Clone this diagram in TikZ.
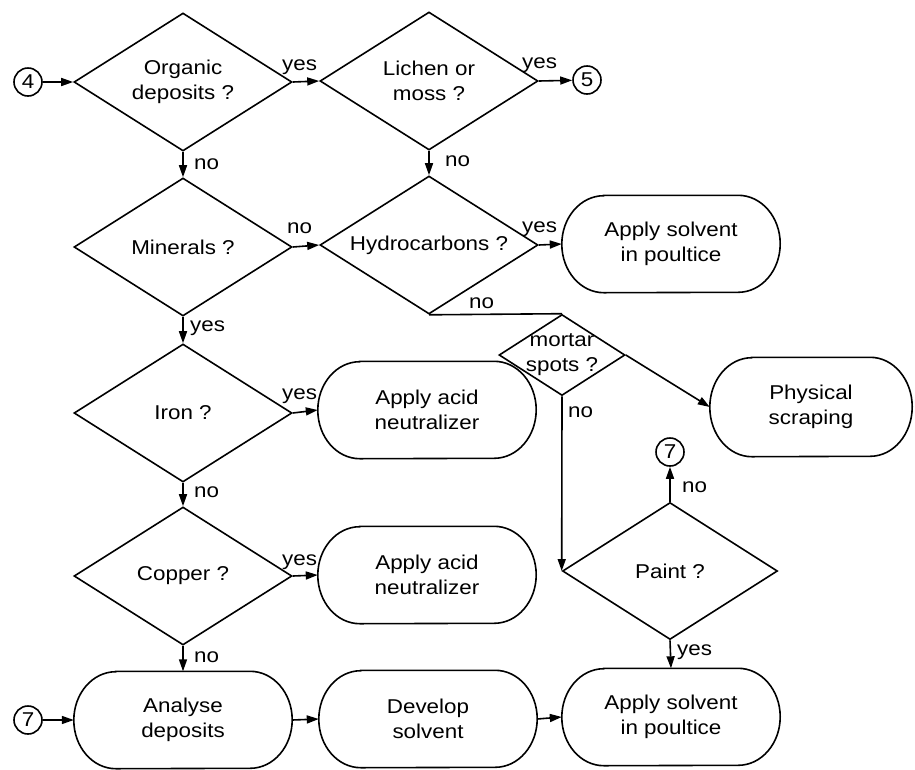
\documentclass[tikz,border=0pt]{standalone}
\usepackage{fontspec}
\setmainfont{Liberation Sans}[FakeStretch=1.12]
\usetikzlibrary{shapes.geometric,arrows.meta}
% outline of an action box: straight top and bottom, half-elliptic ends
% #1 = node name, #2 = vertical radius (half the box height)
\newcommand\drawpill[2]{%
  \draw[outline] ([xshift=42pt]#1.north west) -- ([xshift=-42pt]#1.north east)
    arc[start angle=90, end angle=-90, x radius=42pt, y radius=#2]
    -- ([xshift=42pt]#1.south west)
    arc[start angle=270, end angle=90, x radius=42pt, y radius=#2] -- cycle;}
\begin{document}
\begin{tikzpicture}[x=1pt,y=-1pt,
  every node/.style={font=\fontsize{20}{25}\selectfont, text=black},
  outline/.style={draw=black, line width=1.6pt},
  line/.style={draw=black, line width=1.6pt},
  arr/.style={line, -{Triangle[length=12pt,width=8pt]}},
  dec/.style={outline, diamond, aspect=1.58, inner sep=0pt,
    minimum width=218pt, minimum height=138pt, align=center},
  pill/.style={rectangle, inner sep=0pt,
    minimum width=218pt, minimum height=97pt, align=center},
  conn/.style={outline, circle, inner sep=0pt, minimum size=28pt},
  lbl/.style={anchor=base west, inner sep=0pt}]

\useasboundingbox (0,0) rectangle (915,769);

% decisions and actions
\node[conn] (c4) at (28,82) {4};
\node[dec] (org) at (183,82) {Organic\\deposits ?};
\node[dec] (lich) at (429,81) {Lichen or\\moss ?};
\node[conn] (c5) at (587,80) {5};
\node[dec] (min) at (183,247) {Minerals ?};
\node[dec] (hyd) at (429,245) {Hydrocarbons ?};
\node[pill] (sol1) at (671,244) {Apply solvent\\in poultice};
\node[dec, minimum width=126pt, minimum height=81pt] (mort) at (562,355) {};
\node[align=center, inner sep=0pt] (mortt) at (mort.center) {mortar\\spots ?};
\node[pill, minimum width=202pt, minimum height=99pt] (phys) at (811,407) {Physical\\scraping};
\node[dec] (iron) at (183,413) {Iron ?};
\node[pill] (acid1) at (427,410) {Apply acid\\neutralizer};
\node[conn] (c7a) at (670,452) {7};
\node[dec] (cu) at (183,576) {Copper ?};
\node[pill] (acid2) at (427,575) {Apply acid\\neutralizer};
\node[dec, minimum width=215pt, minimum height=137pt] (paint) at (670,571) {Paint ?};
\node[conn] (c7b) at (28,720) {7};
\node[pill] (ana) at (183,720) {Analyse\\deposits};
\node[pill] (dev) at (428,719) {Develop\\solvent};
\node[pill] (sol2) at (671,717) {Apply solvent\\in poultice};

% action box outlines
\drawpill{sol1}{48.5pt}
\drawpill{phys}{49.5pt}
\drawpill{acid1}{48.5pt}
\drawpill{acid2}{48.5pt}
\drawpill{ana}{48.5pt}
\drawpill{dev}{48.5pt}
\drawpill{sol2}{48.5pt}

% connectors
\draw[arr] (c4) -- (org.west);
\draw[arr] (org.east) -- (lich.west);
\draw[arr] (lich.east) -- (c5);
\draw[arr] (org.south) -- (min.north);
\draw[arr] (lich.south) -- (hyd.north);
\draw[arr] (min.east) -- (hyd.west);
\draw[arr] (hyd.east) -- (sol1.west);
\draw[line] (hyd.south) -- (mort.north);
\draw[arr] (mort.east) -- (phys.west);
\draw[arr] (mort.south) -- (paint.west);
\draw[arr] (paint.north) -- (c7a);
\draw[arr] (paint.south) -- (sol2.north);
\draw[arr] (min.south) -- (iron.north);
\draw[arr] (iron.east) -- (acid1.west);
\draw[arr] (iron.south) -- (cu.north);
\draw[arr] (cu.east) -- (acid2.west);
\draw[arr] (cu.south) -- (ana.north);
\draw[arr] (c7b) -- (ana.west);
\draw[arr] (ana.east) -- (dev.west);
\draw[arr] (dev.east) -- (sol2.west);

% branch labels
\node[lbl] (y1) at (282,70) {yes};
\node[lbl] (y2) at (522,68) {yes};
\node[lbl] (n1) at (194,169) {no};
\node[lbl] (n2) at (445,166) {no};
\node[lbl] (n3) at (287,233) {no};
\node[lbl] (y3) at (522,232) {yes};
\node[lbl] (n4) at (469,308) {no};
\node[lbl] (y4) at (190,331) {yes};
\node[lbl] (y5) at (282,399) {yes};
\node[lbl] (n5) at (194,497) {no};
\node[lbl] (y6) at (282,565) {yes};
\node[lbl] (n6) at (194,662) {no};
\node[lbl] (n7) at (568,417) {no};
\node[lbl] (n8) at (682,492) {no};
\node[lbl] (y7) at (677,655) {yes};
\end{tikzpicture}
\end{document}
